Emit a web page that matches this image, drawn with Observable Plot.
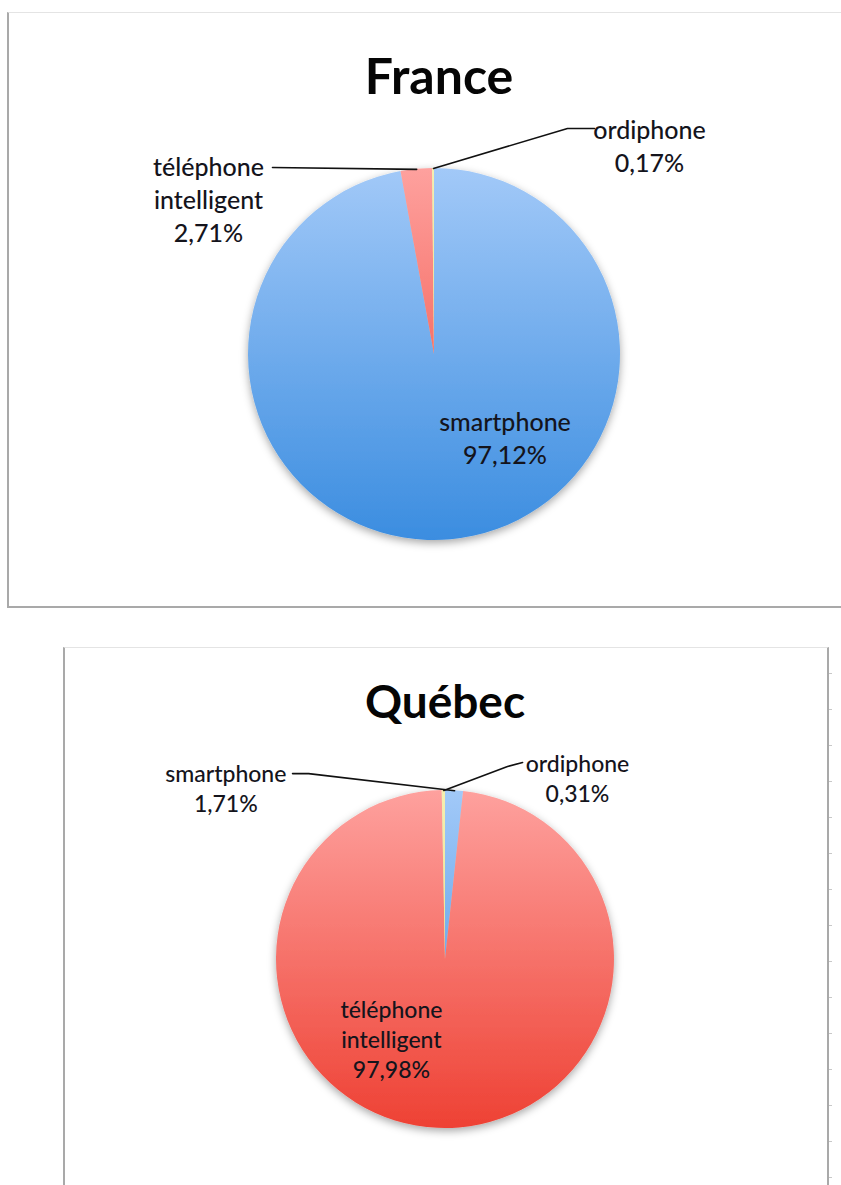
<!DOCTYPE html>
<html><head><meta charset="utf-8">
<script src="https://cdn.jsdelivr.net/npm/d3@7"></script>
<script src="https://cdn.jsdelivr.net/npm/@observablehq/plot@0.6"></script>
<style>
html,body{margin:0;padding:0;background:#fff;}
body{width:841px;height:1185px;overflow:hidden;position:relative;font-family:Lato,"Open Sans",sans-serif;}
.box{position:absolute;box-sizing:border-box;background:#fff;}
#box1{left:7px;top:12px;width:900px;height:596px;border-top:1px solid #e4e4e4;border-left:2px solid #a9a9a9;border-bottom:2px solid #a9a9a9;}
#box2{left:63px;top:647px;width:766px;height:600px;border-top:1px solid #e4e4e4;border-left:2px solid #a9a9a9;border-right:2px solid #a9a9a9;}
#ticks{position:absolute;left:829px;top:673px;width:3px;height:520px;background:repeating-linear-gradient(to bottom,#c8c8c8 0,#c8c8c8 1px,transparent 1px,transparent 36px);}
.title{position:absolute;font-weight:700;color:#050505;transform:translate(-50%,-50%);white-space:nowrap;font-family:Lato,"Open Sans",sans-serif;}
.chart{position:absolute;left:0;}
</style></head><body>
<div id="box1" class="box"></div>
<div id="box2" class="box"></div>
<div id="ticks"></div>
<div id="t1" class="title"></div>
<div id="t2" class="title"></div>
<div id="c1" class="chart"></div>
<div id="c2" class="chart"></div>
<script>
// ---- data ----
const titles = ["France", "Québec"];
const categories = ["smartphone", "téléphone intelligent", "ordiphone"];
const labelNames = ["smartphone", "téléphone\nintelligent", "ordiphone"];
const franceValues = [97.12, 2.71, 0.17];
const quebecValues = [1.71, 97.98, 0.31];

// ---- styles ----
const gradStops = {
  "smartphone": ["#a2c9f8", "#3b8de0"],
  "téléphone intelligent": ["#fea19e", "#ee4134"],
  "ordiphone": ["#f5eeb0", "#e6d878"]
};
const fmt = v => v.toFixed(2).replace(".", ",") + "%";

// layout (page pixels / radius units)
const layouts = [
  {
    id: "c1", top: 0, height: 620, cx: 434, cy: 354, r: 186, font: 25, lh: 1.32,
    title: {el: "t1", x: 439, y: 75, size: 50},
    labels: [ {x: 0.379, y: -0.444}, {x: -1.215, y: 0.839}, {x: 1.156, y: 1.129} ],
    leaders: [ null, [[-0.871, 1.005]], [[0.86, 1.215], [0.715, 1.215]] ]
  },
  {
    id: "c2", top: 620, height: 565, cx: 445, cy: 959, r: 169, font: 23, lh: 1.3,
    title: {el: "t2", x: 445, y: 700, size: 46},
    labels: [ {x: -1.30, y: 1.018}, {x: -0.32, y: -0.467}, {x: 0.781, y: 1.077} ],
    leaders: [ [[-0.905, 1.10], [-0.81, 1.10]], null, [[0.456, 1.166], [0.367, 1.142]] ]
  }
];

function pieMark(values, key) {
  return (index, scales) => {
    const cx = scales.x(0), cy = scales.y(0), r = scales.x(1) - scales.x(0);
    const arcs = d3.pie().sort(null).value(d => d)(values);
    const arc = d3.arc().innerRadius(0).outerRadius(r);
    const g = d3.create("svg:g");
    const defs = g.append("defs");
    categories.forEach((c, i) => {
      const lg = defs.append("linearGradient").attr("id", `${key}-g${i}`)
        .attr("gradientUnits", "userSpaceOnUse")
        .attr("x1", 0).attr("x2", 0).attr("y1", -r).attr("y2", r);
      lg.append("stop").attr("offset", "0%").attr("stop-color", gradStops[c][0]);
      lg.append("stop").attr("offset", "100%").attr("stop-color", gradStops[c][1]);
    });
    const f = defs.append("filter").attr("id", `${key}-sh`)
      .attr("x", "-20%").attr("y", "-20%").attr("width", "140%").attr("height", "140%");
    f.append("feDropShadow").attr("dx", 0).attr("dy", 3).attr("stdDeviation", 4)
      .attr("flood-color", "#000").attr("flood-opacity", 0.35);
    g.append("g").attr("transform", `translate(${cx},${cy})`).attr("filter", `url(#${key}-sh)`)
      .selectAll("path").data(arcs).join("path")
      .attr("d", arc).attr("fill", (d, i) => `url(#${key}-g${i})`);
    return g.node();
  };
}

function draw(values, L, key) {
  const arcs = d3.pie().sort(null).value(d => d)(values);
  const texts = values.map((v, i) => ({
    x: L.labels[i].x, y: L.labels[i].y, text: labelNames[i] + "\n" + fmt(v)
  }));
  const lines = [];
  L.leaders.forEach((pts, i) => {
    if (!pts) return;
    const mid = (arcs[i].startAngle + arcs[i].endAngle) / 2;
    const all = pts.concat([[Math.sin(mid), Math.cos(mid)]]);
    all.forEach(p => lines.push({k: i, x: p[0], y: p[1]}));
  });
  const pageH = L.height;
  const cy = L.cy - L.top;
  const svg = Plot.plot({
    width: 841, height: pageH, margin: 0,
    x: {domain: [-1, 1], range: [L.cx - L.r, L.cx + L.r], axis: null},
    y: {domain: [-1, 1], range: [cy + L.r, cy - L.r], axis: null},
    style: {background: "transparent", overflow: "visible"},
    marks: [
      pieMark(values, key),
      Plot.line(lines, {x: "x", y: "y", z: "k", stroke: "#111", strokeWidth: 1.6}),
      Plot.text(texts, {x: "x", y: "y", text: "text", fontSize: L.font, lineHeight: L.lh,
        lineAnchor: "middle", textAnchor: "middle", fill: "#14141c", fontWeight: 500,
        fontFamily: "Lato, 'Open Sans', sans-serif"})
    ]
  });
  const host = document.getElementById(L.id);
  host.style.top = L.top + "px";
  host.appendChild(svg);
  const t = document.getElementById(L.title.el);
  t.style.left = L.title.x + "px"; t.style.top = L.title.y + "px";
  t.style.fontSize = L.title.size + "px";
}

draw(franceValues, layouts[0], "fr");
draw(quebecValues, layouts[1], "qc");
document.getElementById("t1").textContent = titles[0];
document.getElementById("t2").textContent = titles[1];
</script>
</body></html>
